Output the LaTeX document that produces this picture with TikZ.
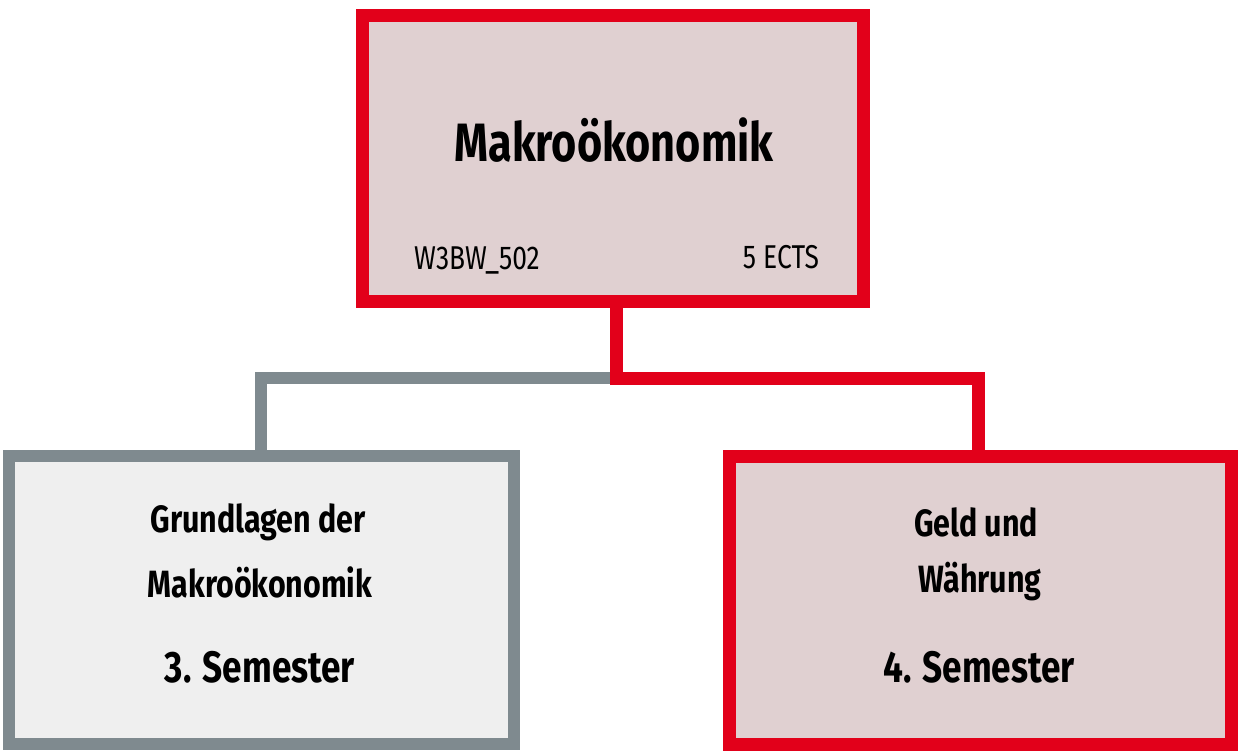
\documentclass[tikz,border=0pt]{standalone}
\usepackage{fontspec}
\setmainfont{Fira Sans}[FakeStretch=0.8]
\definecolor{dred}{HTML}{E2001A}
\definecolor{dgray}{HTML}{7F8A8F}
\definecolor{pinkfill}{HTML}{E0D0D1}
\definecolor{grayfill}{HTML}{EFEFEF}
\tikzset{
  redbox/.style={draw=dred,fill=pinkfill,line width=13pt},
  graybox/.style={draw=dgray,fill=grayfill,line width=12pt},
  lbl/.style={inner sep=0pt,anchor=center},
  redcon/.style={draw=dred,line width=13pt},
  graycon/.style={draw=dgray,line width=12pt}
}
\begin{document}
\begin{tikzpicture}[x=1pt,y=-1pt]
\useasboundingbox (0,0) rectangle (1238,755);
\draw[graycon] (616,378) -- (261,378) -- (261,456);
\draw[redcon] (616,301) -- (616,378) -- (978,378) -- (978,456);
\draw[redbox] (362,15) rectangle (863,301);
\draw[graybox] (9,456) rectangle (514,744);
\draw[redbox] (729,456) rectangle (1231,744);
\node[lbl,font=\fontsize{54}{60}\selectfont\bfseries] (t) at (614,140) {Makroökonomik};
\node[lbl,font=\fontsize{33}{38}\selectfont] (code) at (477,260) {W3BW\_502};
\node[lbl,font=\fontsize{33}{38}\selectfont] (ects) at (781,257) {5 ECTS};
\node[lbl,font=\fontsize{38}{44}\selectfont\bfseries] (l1) at (258,522) {Grundlagen der};
\node[lbl,font=\fontsize{38}{44}\selectfont\bfseries] (l2) at (260,582) {Makroökonomik};
\node[lbl,font=\fontsize{44}{50}\selectfont\bfseries] (l3) at (260,667) {3. Semester};
\node[lbl,font=\fontsize{38}{44}\selectfont\bfseries] (r1) at (976,522) {Geld und};
\node[lbl,font=\fontsize{38}{44}\selectfont\bfseries] (r2) at (980,582) {Währung};
\node[lbl,font=\fontsize{44}{50}\selectfont\bfseries] (r3) at (979,667) {4. Semester};
\end{tikzpicture}
\end{document}
